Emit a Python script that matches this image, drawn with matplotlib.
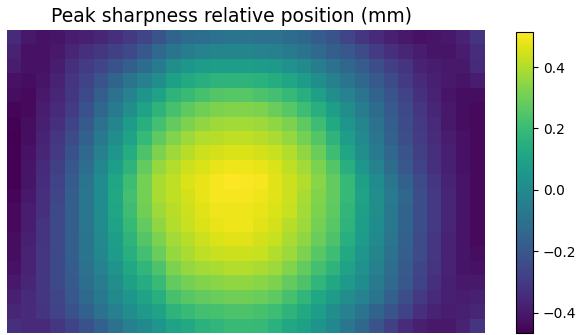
import numpy as np
import matplotlib
matplotlib.use('Agg')
import matplotlib.pyplot as plt

# peak sharpness relative position (mm), 21 rows x 33 columns
z = [
    [-0.35, -0.40, -0.42, -0.41, -0.39, -0.38, -0.36, -0.33, -0.30, -0.26, -0.21, -0.15, -0.12, -0.11, -0.10, -0.09, -0.09, -0.10, -0.10, -0.12, -0.14, -0.18, -0.21, -0.26, -0.31, -0.35, -0.38, -0.40, -0.42, -0.41, -0.40, -0.37, -0.32],
    [-0.37, -0.42, -0.42, -0.40, -0.36, -0.33, -0.31, -0.28, -0.25, -0.20, -0.13, -0.09, -0.05, -0.03, -0.02, -0.02, -0.02, -0.03, -0.04, -0.06, -0.09, -0.13, -0.17, -0.20, -0.24, -0.29, -0.33, -0.36, -0.39, -0.41, -0.41, -0.39, -0.34],
    [-0.39, -0.42, -0.42, -0.39, -0.33, -0.29, -0.26, -0.22, -0.17, -0.12, -0.06, 0.02, 0.05, 0.07, 0.08, 0.08, 0.08, 0.07, 0.06, 0.03, 0.00, -0.05, -0.10, -0.14, -0.18, -0.23, -0.28, -0.32, -0.37, -0.39, -0.40, -0.40, -0.35],
    [-0.42, -0.43, -0.41, -0.37, -0.32, -0.27, -0.21, -0.15, -0.09, -0.04, 0.02, 0.09, 0.13, 0.15, 0.17, 0.17, 0.17, 0.16, 0.14, 0.11, 0.07, 0.02, -0.04, -0.09, -0.14, -0.19, -0.24, -0.30, -0.35, -0.38, -0.40, -0.41, -0.39],
    [-0.43, -0.44, -0.40, -0.36, -0.31, -0.25, -0.17, -0.10, -0.03, 0.04, 0.10, 0.17, 0.20, 0.23, 0.25, 0.26, 0.26, 0.24, 0.22, 0.19, 0.15, 0.09, 0.02, -0.03, -0.09, -0.15, -0.21, -0.27, -0.33, -0.37, -0.41, -0.43, -0.43],
    [-0.45, -0.44, -0.39, -0.35, -0.29, -0.22, -0.14, -0.06, 0.02, 0.10, 0.17, 0.23, 0.27, 0.30, 0.32, 0.33, 0.33, 0.32, 0.29, 0.26, 0.21, 0.15, 0.08, 0.02, -0.05, -0.12, -0.19, -0.25, -0.31, -0.36, -0.40, -0.43, -0.44],
    [-0.46, -0.43, -0.38, -0.33, -0.27, -0.19, -0.10, -0.02, 0.07, 0.15, 0.22, 0.28, 0.32, 0.35, 0.37, 0.38, 0.38, 0.37, 0.35, 0.32, 0.27, 0.21, 0.13, 0.05, -0.02, -0.10, -0.17, -0.24, -0.30, -0.35, -0.40, -0.43, -0.44],
    [-0.466, -0.43, -0.37, -0.31, -0.24, -0.16, -0.07, 0.02, 0.10, 0.19, 0.27, 0.33, 0.37, 0.40, 0.41, 0.42, 0.42, 0.41, 0.39, 0.36, 0.31, 0.25, 0.17, 0.08, 0.00, -0.08, -0.16, -0.23, -0.29, -0.34, -0.39, -0.42, -0.44],
    [-0.46, -0.42, -0.36, -0.30, -0.22, -0.13, -0.04, 0.05, 0.14, 0.24, 0.32, 0.37, 0.41, 0.44, 0.45, 0.46, 0.46, 0.45, 0.43, 0.40, 0.35, 0.29, 0.21, 0.11, 0.02, -0.06, -0.14, -0.21, -0.28, -0.33, -0.38, -0.42, -0.44],
    [-0.46, -0.41, -0.35, -0.28, -0.20, -0.11, -0.01, 0.08, 0.17, 0.28, 0.36, 0.40, 0.44, 0.46, 0.48, 0.49, 0.49, 0.48, 0.46, 0.42, 0.38, 0.32, 0.25, 0.15, 0.05, -0.03, -0.12, -0.20, -0.27, -0.33, -0.38, -0.42, -0.44],
    [-0.46, -0.41, -0.34, -0.27, -0.18, -0.09, 0.01, 0.11, 0.21, 0.31, 0.39, 0.42, 0.46, 0.48, 0.50, 0.514, 0.51, 0.50, 0.47, 0.44, 0.40, 0.34, 0.28, 0.19, 0.09, 0.01, -0.08, -0.16, -0.24, -0.31, -0.37, -0.41, -0.44],
    [-0.45, -0.40, -0.33, -0.26, -0.17, -0.08, 0.01, 0.12, 0.22, 0.31, 0.39, 0.42, 0.45, 0.48, 0.50, 0.50, 0.50, 0.49, 0.47, 0.44, 0.39, 0.33, 0.28, 0.19, 0.10, 0.02, -0.06, -0.14, -0.23, -0.30, -0.36, -0.41, -0.44],
    [-0.44, -0.39, -0.33, -0.25, -0.17, -0.08, 0.01, 0.11, 0.21, 0.30, 0.37, 0.41, 0.44, 0.47, 0.49, 0.49, 0.49, 0.48, 0.46, 0.43, 0.38, 0.32, 0.27, 0.18, 0.09, 0.02, -0.07, -0.15, -0.23, -0.30, -0.36, -0.41, -0.44],
    [-0.44, -0.39, -0.32, -0.25, -0.17, -0.08, 0.01, 0.10, 0.19, 0.28, 0.35, 0.40, 0.43, 0.46, 0.48, 0.49, 0.49, 0.47, 0.45, 0.41, 0.37, 0.31, 0.26, 0.17, 0.08, 0.01, -0.07, -0.15, -0.23, -0.30, -0.36, -0.41, -0.44],
    [-0.43, -0.38, -0.32, -0.25, -0.17, -0.09, 0.00, 0.08, 0.17, 0.25, 0.32, 0.38, 0.41, 0.44, 0.46, 0.47, 0.47, 0.45, 0.43, 0.39, 0.35, 0.29, 0.24, 0.15, 0.07, 0.00, -0.08, -0.16, -0.24, -0.31, -0.37, -0.41, -0.44],
    [-0.43, -0.37, -0.31, -0.25, -0.17, -0.09, -0.01, 0.07, 0.15, 0.22, 0.29, 0.36, 0.39, 0.42, 0.43, 0.44, 0.44, 0.43, 0.40, 0.37, 0.32, 0.26, 0.21, 0.13, 0.05, -0.02, -0.10, -0.17, -0.24, -0.31, -0.37, -0.41, -0.43],
    [-0.42, -0.37, -0.31, -0.25, -0.18, -0.10, -0.03, 0.04, 0.12, 0.18, 0.24, 0.32, 0.36, 0.38, 0.39, 0.40, 0.40, 0.39, 0.37, 0.33, 0.28, 0.22, 0.17, 0.10, 0.03, -0.04, -0.11, -0.19, -0.26, -0.32, -0.37, -0.41, -0.42],
    [-0.40, -0.36, -0.31, -0.25, -0.19, -0.11, -0.05, 0.02, 0.09, 0.14, 0.20, 0.28, 0.31, 0.33, 0.34, 0.35, 0.35, 0.34, 0.32, 0.28, 0.24, 0.18, 0.12, 0.06, 0.01, -0.06, -0.13, -0.20, -0.27, -0.33, -0.38, -0.40, -0.40],
    [-0.38, -0.35, -0.31, -0.26, -0.20, -0.13, -0.07, 0.00, 0.05, 0.10, 0.15, 0.23, 0.26, 0.28, 0.29, 0.30, 0.30, 0.29, 0.27, 0.23, 0.18, 0.12, 0.07, 0.02, -0.03, -0.09, -0.16, -0.23, -0.30, -0.35, -0.38, -0.39, -0.38],
    [-0.36, -0.35, -0.32, -0.27, -0.22, -0.16, -0.10, -0.04, 0.02, 0.06, 0.10, 0.17, 0.20, 0.22, 0.23, 0.24, 0.24, 0.23, 0.21, 0.17, 0.13, 0.08, 0.02, -0.03, -0.09, -0.15, -0.21, -0.27, -0.33, -0.37, -0.39, -0.38, -0.36],
    [-0.33, -0.35, -0.35, -0.31, -0.27, -0.22, -0.16, -0.10, -0.04, 0.00, 0.05, 0.10, 0.13, 0.16, 0.18, 0.20, 0.20, 0.19, 0.16, 0.12, 0.09, 0.04, -0.01, -0.08, -0.14, -0.21, -0.28, -0.34, -0.38, -0.40, -0.40, -0.37, -0.32],
]

fig = plt.figure(figsize=(5.85, 3.35), dpi=100)
ax = fig.add_axes([7/585, 2/335, 478/585, 303/335])
im = ax.imshow(np.array(z), cmap='viridis', aspect='auto', interpolation='nearest')
ax.axis('off')
ax.set_title('Peak sharpness relative position (mm)', fontsize=13.5, x=0.47)

cax = fig.add_axes([516/585, 2/335, 17/585, 301/335])
fig.colorbar(im, cax=cax)

fig.savefig('out.png', dpi=100)
